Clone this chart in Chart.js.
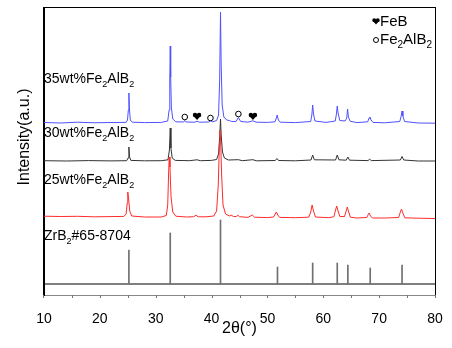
<!DOCTYPE html>
<html>
<head>
<meta charset="utf-8">
<script src="https://cdn.jsdelivr.net/npm/chart.js@4.4.1/dist/chart.umd.min.js"></script>
<style>
  html, body { margin: 0; padding: 0; background: #fff; }
  #wrap { width: 452px; height: 348px; }
</style>
</head>
<body>
<div id="wrap"><canvas id="xrd" width="452" height="348"></canvas></div>
<script>
// 2theta (deg), intensity (a.u., traces stacked with offsets)
var trace35 = [
  [10,172.5],[13,172],[16,172.8],[19,172.2],[22,172.5],[24.7,172.6],[24.95,175],[25.1,185],[25.2,202],[25.3,186],[25.45,175],[25.8,172.8],
  [28,172.4],[31,172.6],[32.15,174],[32.4,185],[32.52,215],[32.6,249],[32.68,218],[32.8,188],[33.05,176],[33.6,173.2],
  [35,173],[35.2,174.5],[35.45,173],[37,172.8],[37.4,173.8],[37.8,172.8],[39.5,173],[39.8,174.2],[40.2,173.2],
  [40.9,174.5],[41.25,180],[41.45,215],[41.6,283],[41.72,230],[41.9,190],[42.2,178],[42.7,175],[43.2,174.5],[43.6,173.5],
  [44.4,173.6],[44.8,177.5],[45.2,173.6],[46.5,172.8],[47.4,174.2],[48,172.8],[50,172.6],
  [51.35,173.2],[51.6,177],[51.75,180],[51.95,175],[52.3,172.8],[55,172.4],
  [57.75,173.5],[57.95,180],[58.1,190],[58.25,181],[58.5,174],[60.5,172.6],
  [62.15,174],[62.35,181],[62.5,189],[62.65,182],[62.95,174.5],[63.9,174],[64.2,177],[64.35,186],[64.5,178],[64.8,173.8],
  [66,172.4],[67.95,173.2],[68.2,177],[68.35,178],[68.55,175],[68.9,172.6],[71,172.2],
  [73.7,173.5],[73.95,179],[74.1,184],[74.25,179],[74.55,173.5],[77,172],[80,171.8]
];
var trace30 = [
  [10,134.3],[14,134],[18,134.4],[22,134.1],[24.8,134.3],[25.05,137],[25.2,148],[25.32,138],[25.55,134.6],
  [28,134.2],[31,134.3],[32.2,135.2],[32.45,145],[32.6,167],[32.72,147],[32.95,137],[33.5,134.6],
  [36,134.3],[37.4,135.2],[38,134.3],[40,134.6],[40.9,135.5],[41.25,141],[41.45,158],[41.6,176],[41.72,160],[41.95,143],[42.3,137],
  [43,135],[44.8,135.3],[45.5,134.3],[47.4,135.3],[48,134.2],[51.4,134.5],[51.7,136.5],[52,134.5],[55,134.2],
  [57.8,135],[58.1,140],[58.4,135.2],[62.2,135],[62.5,140],[62.8,135.2],[64.1,134.8],[64.4,138],[64.7,134.8],
  [68,134.4],[68.3,135.8],[68.6,134.4],[73.8,135],[74.1,138.5],[74.4,135],[77,134],[80,134]
];
var trace25 = [
  [10,78.8],[13,78.5],[16,78.7],[19,78.2],[22,78.4],[24.3,78.6],[24.7,81],[24.9,92],[25.0,103],[25.15,96],[25.35,84],[25.7,79],
  [28,78],[31,78],[31.9,79.5],[32.15,90],[32.3,120],[32.42,138],[32.55,128],[32.75,98],[33.05,83],[33.6,78.8],
  [35.5,78],[36.8,78.3],[37.2,79.8],[37.6,78.2],[39,78.2],[40.4,79],[40.9,84],[41.2,110],[41.4,150],[41.5,165],[41.62,155],
  [41.8,120],[42.05,90],[42.5,81],[43.2,79],[43.5,80],[43.9,78.5],[44.4,78.4],[44.7,79.8],[45,78.3],[46.5,77.6],[47.3,80],[47.7,77.8],
  [50,77.4],[51.1,78],[51.4,81],[51.6,83],[51.85,80],[52.2,77.6],[55,77.3],
  [57.4,77.8],[57.75,83],[58.0,90],[58.25,84],[58.6,78],[61,77.3],
  [61.9,78.3],[62.2,85],[62.4,89],[62.6,85],[62.95,78.6],[63.8,78.4],[64.1,84],[64.3,88],[64.5,84],[64.85,77.8],
  [66,77],[67.8,77.5],[68.05,80.5],[68.2,82],[68.45,79],[68.8,77],[71,77],
  [73.5,77.5],[73.8,83],[74.0,86],[74.25,82],[74.6,77.2],[77,76.8],[80,76.5]
];
// ZrB2 #65-8704 reference sticks
var stickAngles = [25.2, 32.6, 41.6, 51.8, 58.1, 62.5, 64.4, 68.4, 74.1];
var stickTops   = [45, 62, 75, 28, 32, 32, 30, 27, 30];
var stickBase   = 11;

var sampleLabels = ['35', '30', '25'];
var labelLevels  = [212, 158, 111, 55];   // baselines of the text labels
var fe2alb2Marks = [[35.2, 178], [39.8, 177], [44.8, 181]];
var febMarks     = [[37.4, 179], [47.4, 179]];

function pts(arr) { return arr.map(function (p) { return { x: p[0], y: p[1] }; }); }

var sticks = stickAngles.map(function (a, i) { return { x: a, y: [stickBase, stickTops[i]] }; });

function subText(ctx, parts, x, y, size) {
  parts.forEach(function (p) {
    if (p.sub) {
      ctx.font = Math.round(size * 0.65) + 'px Arial';
      ctx.fillText(p.t, x, y + size * 0.28);
    } else {
      ctx.font = size + 'px Arial';
      ctx.fillText(p.t, x, y);
    }
    x += ctx.measureText(p.t).width;
  });
  return x;
}
function fe2alb2(prefix) {
  return [{ t: prefix + 'Fe' }, { t: '2', sub: true }, { t: 'AlB' }, { t: '2', sub: true }];
}
function heart(ctx, cx, cy, s) {
  var r = s * 0.28;
  ctx.beginPath();
  ctx.arc(cx - r * 0.9, cy - r * 0.4, r, 0, Math.PI * 2);
  ctx.arc(cx + r * 0.9, cy - r * 0.4, r, 0, Math.PI * 2);
  ctx.fill();
  ctx.beginPath();
  ctx.moveTo(cx - s / 2, cy - r * 0.2);
  ctx.lineTo(cx + s / 2, cy - r * 0.2);
  ctx.lineTo(cx, cy + s * 0.5);
  ctx.closePath();
  ctx.fill();
}
function ring(ctx, cx, cy, r) {
  ctx.beginPath();
  ctx.arc(cx, cy, r, 0, Math.PI * 2);
  ctx.stroke();
}

var decorations = {
  id: 'decorations',
  afterDraw: function (chart) {
    var ctx = chart.ctx, a = chart.chartArea;
    var xs = chart.scales.x, ys = chart.scales.y;
    var left = Math.round(a.left), right = Math.round(a.right);
    var top = Math.round(a.top), bottom = Math.round(a.bottom);
    ctx.save();
    // frame: left axis, top and right
    ctx.fillStyle = '#000';
    ctx.fillRect(left - 1, top, 1, bottom - top);
    ctx.fillRect(left - 1, top, right - left + 2, 1);
    ctx.fillRect(right, top, 1, bottom - top);
    // outward ticks every 5 deg
    ctx.fillStyle = '#777';
    for (var v = 10; v <= 80; v += 5) {
      var px = Math.round(xs.getPixelForValue(v));
      ctx.fillRect(px - (v === 10 ? 1 : 0), bottom, 1, 3);
    }
    ctx.fillStyle = '#000';
    ctx.textBaseline = 'alphabetic';
    ctx.textAlign = 'left';
    // sample labels
    sampleLabels.forEach(function (s, i) {
      subText(ctx, fe2alb2(s + 'wt%'), a.left, ys.getPixelForValue(labelLevels[i]), 14);
    });
    subText(ctx, [{ t: 'ZrB' }, { t: '2', sub: true }, { t: '#65-8704' }], a.left, ys.getPixelForValue(labelLevels[3]), 14);
    // phase markers
    ctx.strokeStyle = '#000';
    ctx.lineWidth = 1;
    fe2alb2Marks.forEach(function (m) {
      ring(ctx, xs.getPixelForValue(m[0]), ys.getPixelForValue(m[1]), 2.8);
    });
    febMarks.forEach(function (m) {
      heart(ctx, xs.getPixelForValue(m[0]), ys.getPixelForValue(m[1]), 8);
    });
    // legend
    heart(ctx, 376, 21, 7);
    subText(ctx, [{ t: 'FeB' }], 380, 26, 15);
    ring(ctx, 376, 40, 2.5);
    subText(ctx, fe2alb2(''), 380, 43.5, 15);
    // axis titles
    ctx.font = '16px Arial';
    ctx.textAlign = 'center';
    ctx.fillText('2\u03b8(\u00b0)', (a.left + a.right) / 2, 333);
    ctx.translate(29, 137);
    ctx.rotate(-Math.PI / 2);
    ctx.fillText('Intensity(a.u.)', 0, 0);
    ctx.restore();
  }
};

Chart.defaults.font.family = 'Arial';

new Chart(document.getElementById('xrd'), {
  type: 'line',
  data: {
    datasets: [
      { label: '35wt%', data: pts(trace35), borderColor: '#5050ff', borderWidth: 1, pointRadius: 0, tension: 0, order: 1 },
      { label: '25wt%', data: pts(trace25), borderColor: '#ff2a2a', borderWidth: 1, pointRadius: 0, tension: 0, order: 2 },
      { label: '30wt%', data: pts(trace30), borderColor: '#333333', borderWidth: 1, pointRadius: 0, tension: 0, order: 3 },
      { type: 'bar', label: 'ZrB2', data: sticks, backgroundColor: '#707070', barThickness: 1, order: 4 },
      { label: 'base', data: [{ x: 10, y: stickBase }, { x: 80, y: stickBase }], borderColor: '#000', borderWidth: 1, pointRadius: 0, order: 5 }
    ]
  },
  options: {
    responsive: false,
    animation: false,
    devicePixelRatio: 1,
    layout: { padding: { top: 7, right: 17, left: 0, bottom: 0 } },
    plugins: { legend: { display: false }, tooltip: { enabled: false } },
    scales: {
      x: {
        type: 'linear', min: 10, max: 80, offset: false,
        ticks: { stepSize: 10, color: '#000', font: { size: 14 }, padding: 8, maxRotation: 0 },
        grid: { display: false, offset: false },
        border: { color: '#888', width: 1 },
        afterFit: function (s) { s.height = 53; }
      },
      y: {
        min: 0, max: 288,
        ticks: { display: false },
        grid: { display: false },
        border: { color: '#000', width: 1 },
        afterFit: function (s) { s.width = 44; }
      }
    }
  },
  plugins: [decorations]
});
</script>
</body>
</html>
